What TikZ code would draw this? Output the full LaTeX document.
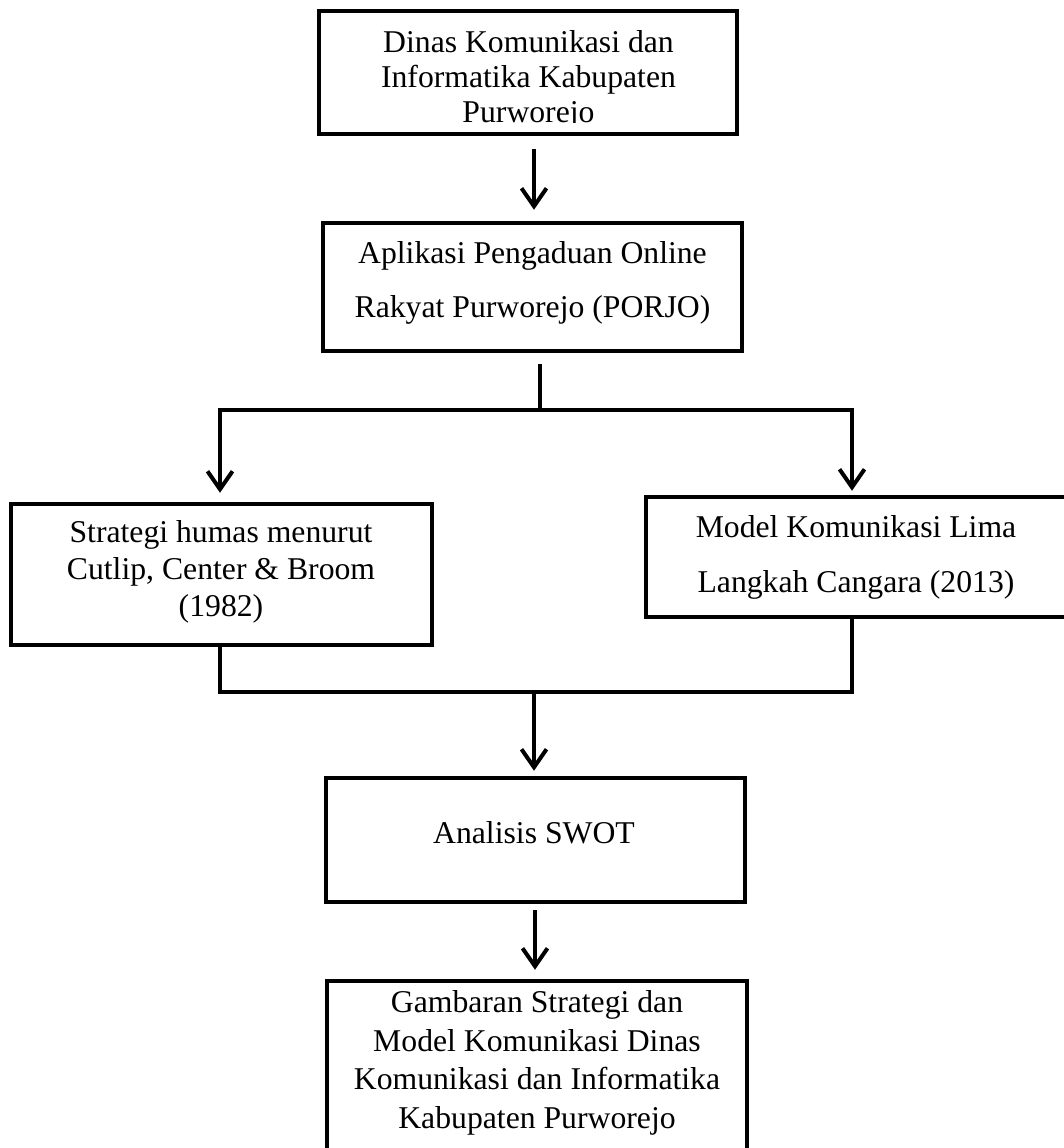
\documentclass[tikz,border=0pt]{standalone}
\usepackage{fontspec}
\setmainfont{Liberation Serif}
\usetikzlibrary{arrows.meta,calc}
\begin{document}
\begin{tikzpicture}[x=1pt,y=-1pt,
  box/.style={draw,line width=4.5pt,rectangle,inner sep=0pt},
  txt/.style={align=center,inner sep=0pt,font=\fontsize{31.7}{#1}\selectfont},
  ln/.style={line width=4pt},
  arr/.style={line width=4pt,-{Straight Barb[length=18pt,width=25pt]}}]
\useasboundingbox (0,0) rectangle (1063,1148);

% boxes
\node[box,minimum width=418pt,minimum height=123pt] (b1) at (528,72.5) {};
\node[box,minimum width=419pt,minimum height=128pt] (b2) at (532.5,287) {};
\node[box,minimum width=421pt,minimum height=141pt] (b3) at (221.5,574.5) {};
\node[box,minimum width=424pt,minimum height=120pt] (b4) at (858,557) {};
\node[box,minimum width=419pt,minimum height=124pt] (b5) at (535.5,840) {};
\node[box,minimum width=420pt,minimum height=184pt] (b6) at (537,1073) {};

% texts
\begin{scope}
  \clip ($(b1.north west)+(3,3)$) rectangle ($(b1.south east)+(-3,-14)$);
  \node[txt=35] (t1) at (528.5,80) {Dinas Komunikasi dan\\Informatika Kabupaten\\Purworejo};
\end{scope}
\node[txt=54] (t2) at (532.5,282.6) {Aplikasi Pengaduan Online\\Rakyat Purworejo (PORJO)};
\node[txt=37] (t3) at (221,572) {Strategi humas menurut\\Cutlip, Center \& Broom\\(1982)};
\node[txt=55] (t4) at (856,557.3) {Model Komunikasi Lima\\Langkah Cangara (2013)};
\node[txt=34] (t5) at (534,833) {Analisis SWOT};
\node[txt=38.5] (t6) at (537,1063) {Gambaran Strategi dan\\Model Komunikasi Dinas\\Komunikasi dan Informatika\\Kabupaten Purworejo};

% connectors
\draw[arr] ($(b1.south)+(6,13)$) -- ($(b2.north)+(1.5,-11)$);
\coordinate (j1) at (540,410);
\draw[ln] ($(b2.south)+(7.5,11)$) -- (j1);
\draw[arr] (j1) -| ($(b3.north)+(-1.5,-9)$);
\draw[arr] (j1) -| ($(b4.north)+(-6,-4)$);
\coordinate (mc) at (534,692);
\draw[ln] ($(b3.south)+(-1.5,0)$) |- (mc);
\draw[ln] ($(b4.south)+(-6,0)$) |- (mc);
\draw[arr] (mc) -- ($(b5.north)+(-1.5,-5)$);
\draw[arr] ($(b5.south)+(-0.5,6)$) -- ($(b6.north)+(-2,-9)$);
\end{tikzpicture}
\end{document}
